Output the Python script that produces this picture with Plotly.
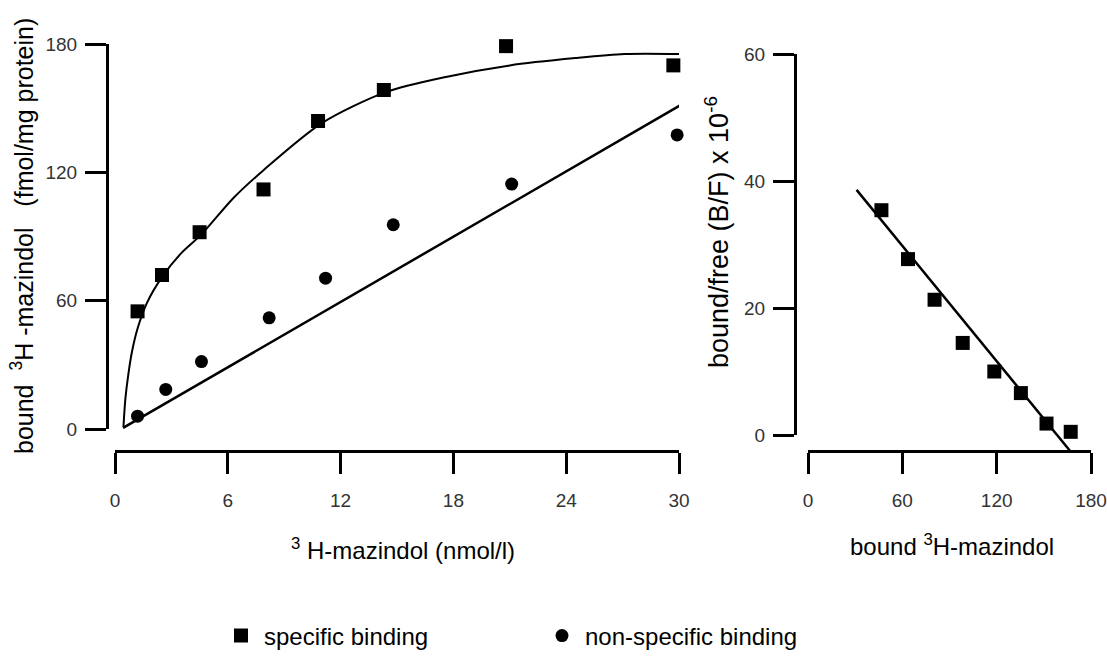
import plotly.graph_objects as go

# ---------------- data ----------------
# Left panel: saturation binding
conc_specific = [1.2, 2.5, 4.5, 7.9, 10.8, 14.3, 20.8, 29.7]
bound_specific = [55, 72, 92, 112, 144, 158.5, 179, 170]

conc_nonspecific = [1.2, 2.7, 4.6, 8.2, 11.2, 14.8, 21.1, 29.9]
bound_nonspecific = [6, 18.5, 31.5, 52, 70.5, 95.5, 114.5, 137.5]

# fitted hyperbola (specific) read as points
fit_specific_x = [0.45, 0.55, 0.7, 0.9, 1.2, 1.7, 2.5, 3.5, 4.6, 6.3, 7.9, 11.0,
                  14.4, 17.6, 21.0, 24.5, 27.1, 30.0]
fit_specific_y = [1, 14, 25, 36, 47, 59, 71, 82, 91, 108, 121, 143,
                  157.5, 164.6, 170, 173.4, 175.3, 175.3]

# fitted straight line (non-specific)
fit_nonspecific_x = [0.43, 30.2]
fit_nonspecific_y = [0.5, 152]

# Right panel: Scatchard plot
scat_bound = [46.7, 63.6, 80.5, 98.4, 118.5, 135.4, 151.7, 167.1]
scat_bf = [35.4, 27.7, 21.3, 14.5, 10.0, 6.6, 1.8, 0.5]
scat_fit_x = [30.9, 167.0]
scat_fit_y = [38.6, -2.6]

left_xticks = [0, 6, 12, 18, 24, 30]
left_yticks = [0, 60, 120, 180]
right_xticks = [0, 60, 120, 180]
right_yticks = [0, 20, 40, 60]

# ---------------- layout helpers ----------------
W, H = 1107, 656


def px_x(p):
    return p / W


def px_y(p):
    return 1 - p / H


FONT = "Liberation Sans, Arial, Helvetica, sans-serif"
TICKFONT = dict(family=FONT, size=19, color="#333333")

fig = go.Figure()

fig.add_trace(go.Scatter(
    x=fit_specific_x, y=fit_specific_y, mode="lines",
    line=dict(color="black", width=2, shape="spline", smoothing=0.8),
    xaxis="x", yaxis="y", showlegend=False, hoverinfo="skip"))
fig.add_trace(go.Scatter(
    x=fit_nonspecific_x, y=fit_nonspecific_y, mode="lines",
    line=dict(color="black", width=2.5),
    xaxis="x", yaxis="y", showlegend=False, hoverinfo="skip"))
fig.add_trace(go.Scatter(
    x=conc_specific, y=bound_specific, mode="markers", name="specific binding",
    marker=dict(symbol="square", size=14, color="black"),
    cliponaxis=False, xaxis="x", yaxis="y"))
fig.add_trace(go.Scatter(
    x=conc_nonspecific, y=bound_nonspecific, mode="markers", name="non-specific binding",
    marker=dict(symbol="circle", size=13, color="black"),
    cliponaxis=False, xaxis="x", yaxis="y"))

fig.add_trace(go.Scatter(
    x=scat_bound, y=scat_bf, mode="markers", name="specific binding",
    marker=dict(symbol="square", size=14, color="black"),
    cliponaxis=False, xaxis="x2", yaxis="y2", showlegend=False))
fig.add_trace(go.Scatter(
    x=scat_fit_x, y=scat_fit_y, mode="lines",
    line=dict(color="black", width=2.5),
    xaxis="x2", yaxis="y3", showlegend=False, hoverinfo="skip"))

axis_common = dict(showgrid=False, zeroline=False, showline=True, linecolor="black",
                   linewidth=3, ticks="outside", tickwidth=3, tickcolor="black",
                   ticklen=21, tickfont=TICKFONT, fixedrange=True, automargin=False)

y3_min = -(458 - 435) / (381 / 60)

fig.update_layout(
    width=W, height=H,
    margin=dict(l=0, r=0, t=0, b=0, autoexpand=False),
    paper_bgcolor="white", plot_bgcolor="rgba(0,0,0,0)",
    font=dict(family=FONT, color="black"),
    xaxis=dict(domain=[px_x(115), px_x(679)], range=[0, 30], tickvals=left_xticks,
               anchor="free", position=px_y(451), ticklabelstandoff=10, **axis_common),
    yaxis=dict(domain=[px_y(429), px_y(44)], range=[0, 180], tickvals=left_yticks,
               anchor="free", position=px_x(107), ticklabelstandoff=4, **axis_common),
    xaxis2=dict(domain=[px_x(808), px_x(1091)], range=[0, 180], tickvals=right_xticks,
                anchor="free", position=px_y(451), ticklabelstandoff=10, **axis_common),
    yaxis2=dict(domain=[px_y(435), px_y(54)], range=[0, 60], tickvals=right_yticks,
                anchor="free", position=px_x(795), ticklabelstandoff=4, **axis_common),
    yaxis3=dict(domain=[px_y(458), px_y(54)], range=[y3_min, 60], visible=False,
                anchor="x2", fixedrange=True),
    legend=dict(orientation="h", x=px_x(218), y=px_y(636), xanchor="left", yanchor="middle",
                font=dict(family=FONT, size=24, color="black"), itemwidth=36,
                entrywidth=270, entrywidthmode="pixels", bgcolor="rgba(0,0,0,0)"),
    annotations=[
        dict(text="bound\u00a0\u00a0<sup>3</sup>H\u00a0-mazindol\u00a0\u00a0\u00a0(fmol/mg protein)",
             x=px_x(22), y=px_y(236), xref="paper", yref="paper", textangle=-90,
             showarrow=False, xanchor="center", yanchor="middle",
             font=dict(family=FONT, size=25, color="black")),
        dict(text="<sup>3</sup>\u00a0H-mazindol (nmol/l)",
             x=px_x(403), y=px_y(549), xref="paper", yref="paper",
             showarrow=False, xanchor="center", yanchor="middle",
             font=dict(family=FONT, size=24, color="black")),
        dict(text="bound/free (B/F) x 10<sup>-6</sup>",
             x=px_x(717), y=px_y(232), xref="paper", yref="paper", textangle=-90,
             showarrow=False, xanchor="center", yanchor="middle",
             font=dict(family=FONT, size=27, color="black")),
        dict(text="bound <sup>3</sup>H-mazindol",
             x=px_x(952), y=px_y(545), xref="paper", yref="paper",
             showarrow=False, xanchor="center", yanchor="middle",
             font=dict(family=FONT, size=24, color="black")),
    ],
)

fig.write_html("out.html", config={"displayModeBar": False},
               post_script="document.body.style.margin='0px';")
